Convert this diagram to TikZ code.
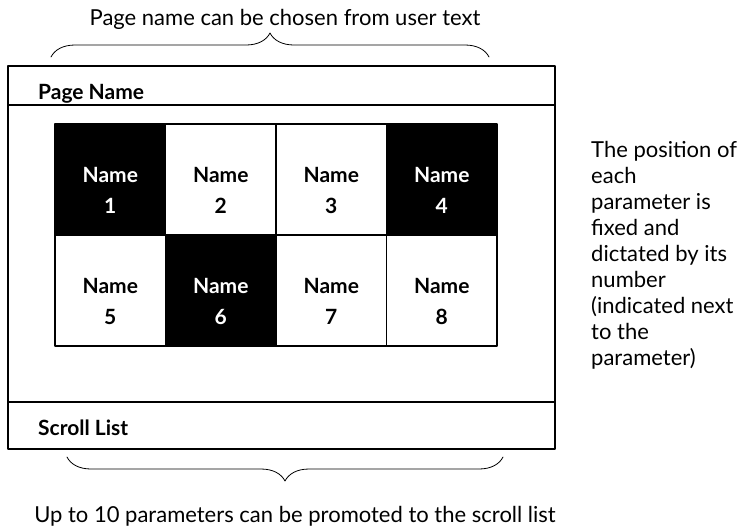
\documentclass[tikz,border=0pt]{standalone}
\usepackage{fontspec}
\setmainfont{Lato}
\usetikzlibrary{positioning,decorations.pathreplacing}

\tikzset{
  cellblack/.style={draw=black, fill=black, line width=1.2pt,
    minimum width=110.5pt, minimum height=111pt, inner sep=0pt},
  cellwhite/.style={cellblack, fill=white},
  celltext/.style={inner sep=0pt, align=center, font=\bfseries\fontsize{21}{31}\selectfont},
  header/.style={anchor=base west, inner sep=0pt, font=\bfseries\fontsize{21}{24}\selectfont},
  note/.style={inner sep=0pt, font=\fontsize{22}{26}\selectfont},
  bracket/.style={decorate, decoration={brace, amplitude=24pt}, line width=0.8pt}
}

\begin{document}
\begin{tikzpicture}[x=1pt,y=-1pt, line cap=round, line join=round]
\useasboundingbox (0,0) rectangle (743,531);

% screen outline
\coordinate (boxtl) at (8,66);
\coordinate (boxbr) at (555,449);
\coordinate (toprule l) at (8,105);
\coordinate (toprule r) at (555,105);
\coordinate (botrule l) at (8,402);
\coordinate (botrule r) at (555,402);
\draw[line width=1.2pt] (boxtl) rectangle (boxbr);
\draw[line width=1.2pt] (toprule l) -- (toprule r);
\draw[line width=1.2pt] (botrule l) -- (botrule r);

% headers
\node[header] (pagename) at (38,99) {Page Name};
\node[header] (scrolllist) at (38,435) {Scroll List};

% parameter grid
\foreach \n/\x/\y/\s/\t in {1/110.25/179.5/cellblack/white, 2/220.75/179.5/cellwhite/black,
    3/331.25/179.5/cellwhite/black, 4/441.75/179.5/cellblack/white,
    5/110.25/290.5/cellwhite/black, 6/220.75/290.5/cellblack/white,
    7/331.25/290.5/cellwhite/black, 8/441.75/290.5/cellwhite/black} {
  \node[\s] (c\n) at (\x,\y) {};
  \node[celltext, text=\t] (t\n) at ([yshift=-11pt]c\n.center) {Name\\\n};
}

% top brace and caption
\node[note] (toptext) at (285,19) {Page name can be chosen from user text};
\coordinate (tbl) at (51,57);
\coordinate (tbr) at (489,57);
\draw[bracket] (tbl) -- (tbr);

% bottom brace and caption
\coordinate (bbl) at (67,457);
\coordinate (bbr) at (503,457);
\draw[bracket] (bbr) -- (bbl);
\node[note] (bottext) at (295,516) {Up to 10 parameters can be promoted to the scroll list};

% side note
\node[note, anchor=north west, align=left]
  (sidenote) at (591,141) {The position of\\each\\parameter is\\fixed and\\dictated by its\\number\\(indicated next\\to the\\parameter)};
\end{tikzpicture}
\end{document}
